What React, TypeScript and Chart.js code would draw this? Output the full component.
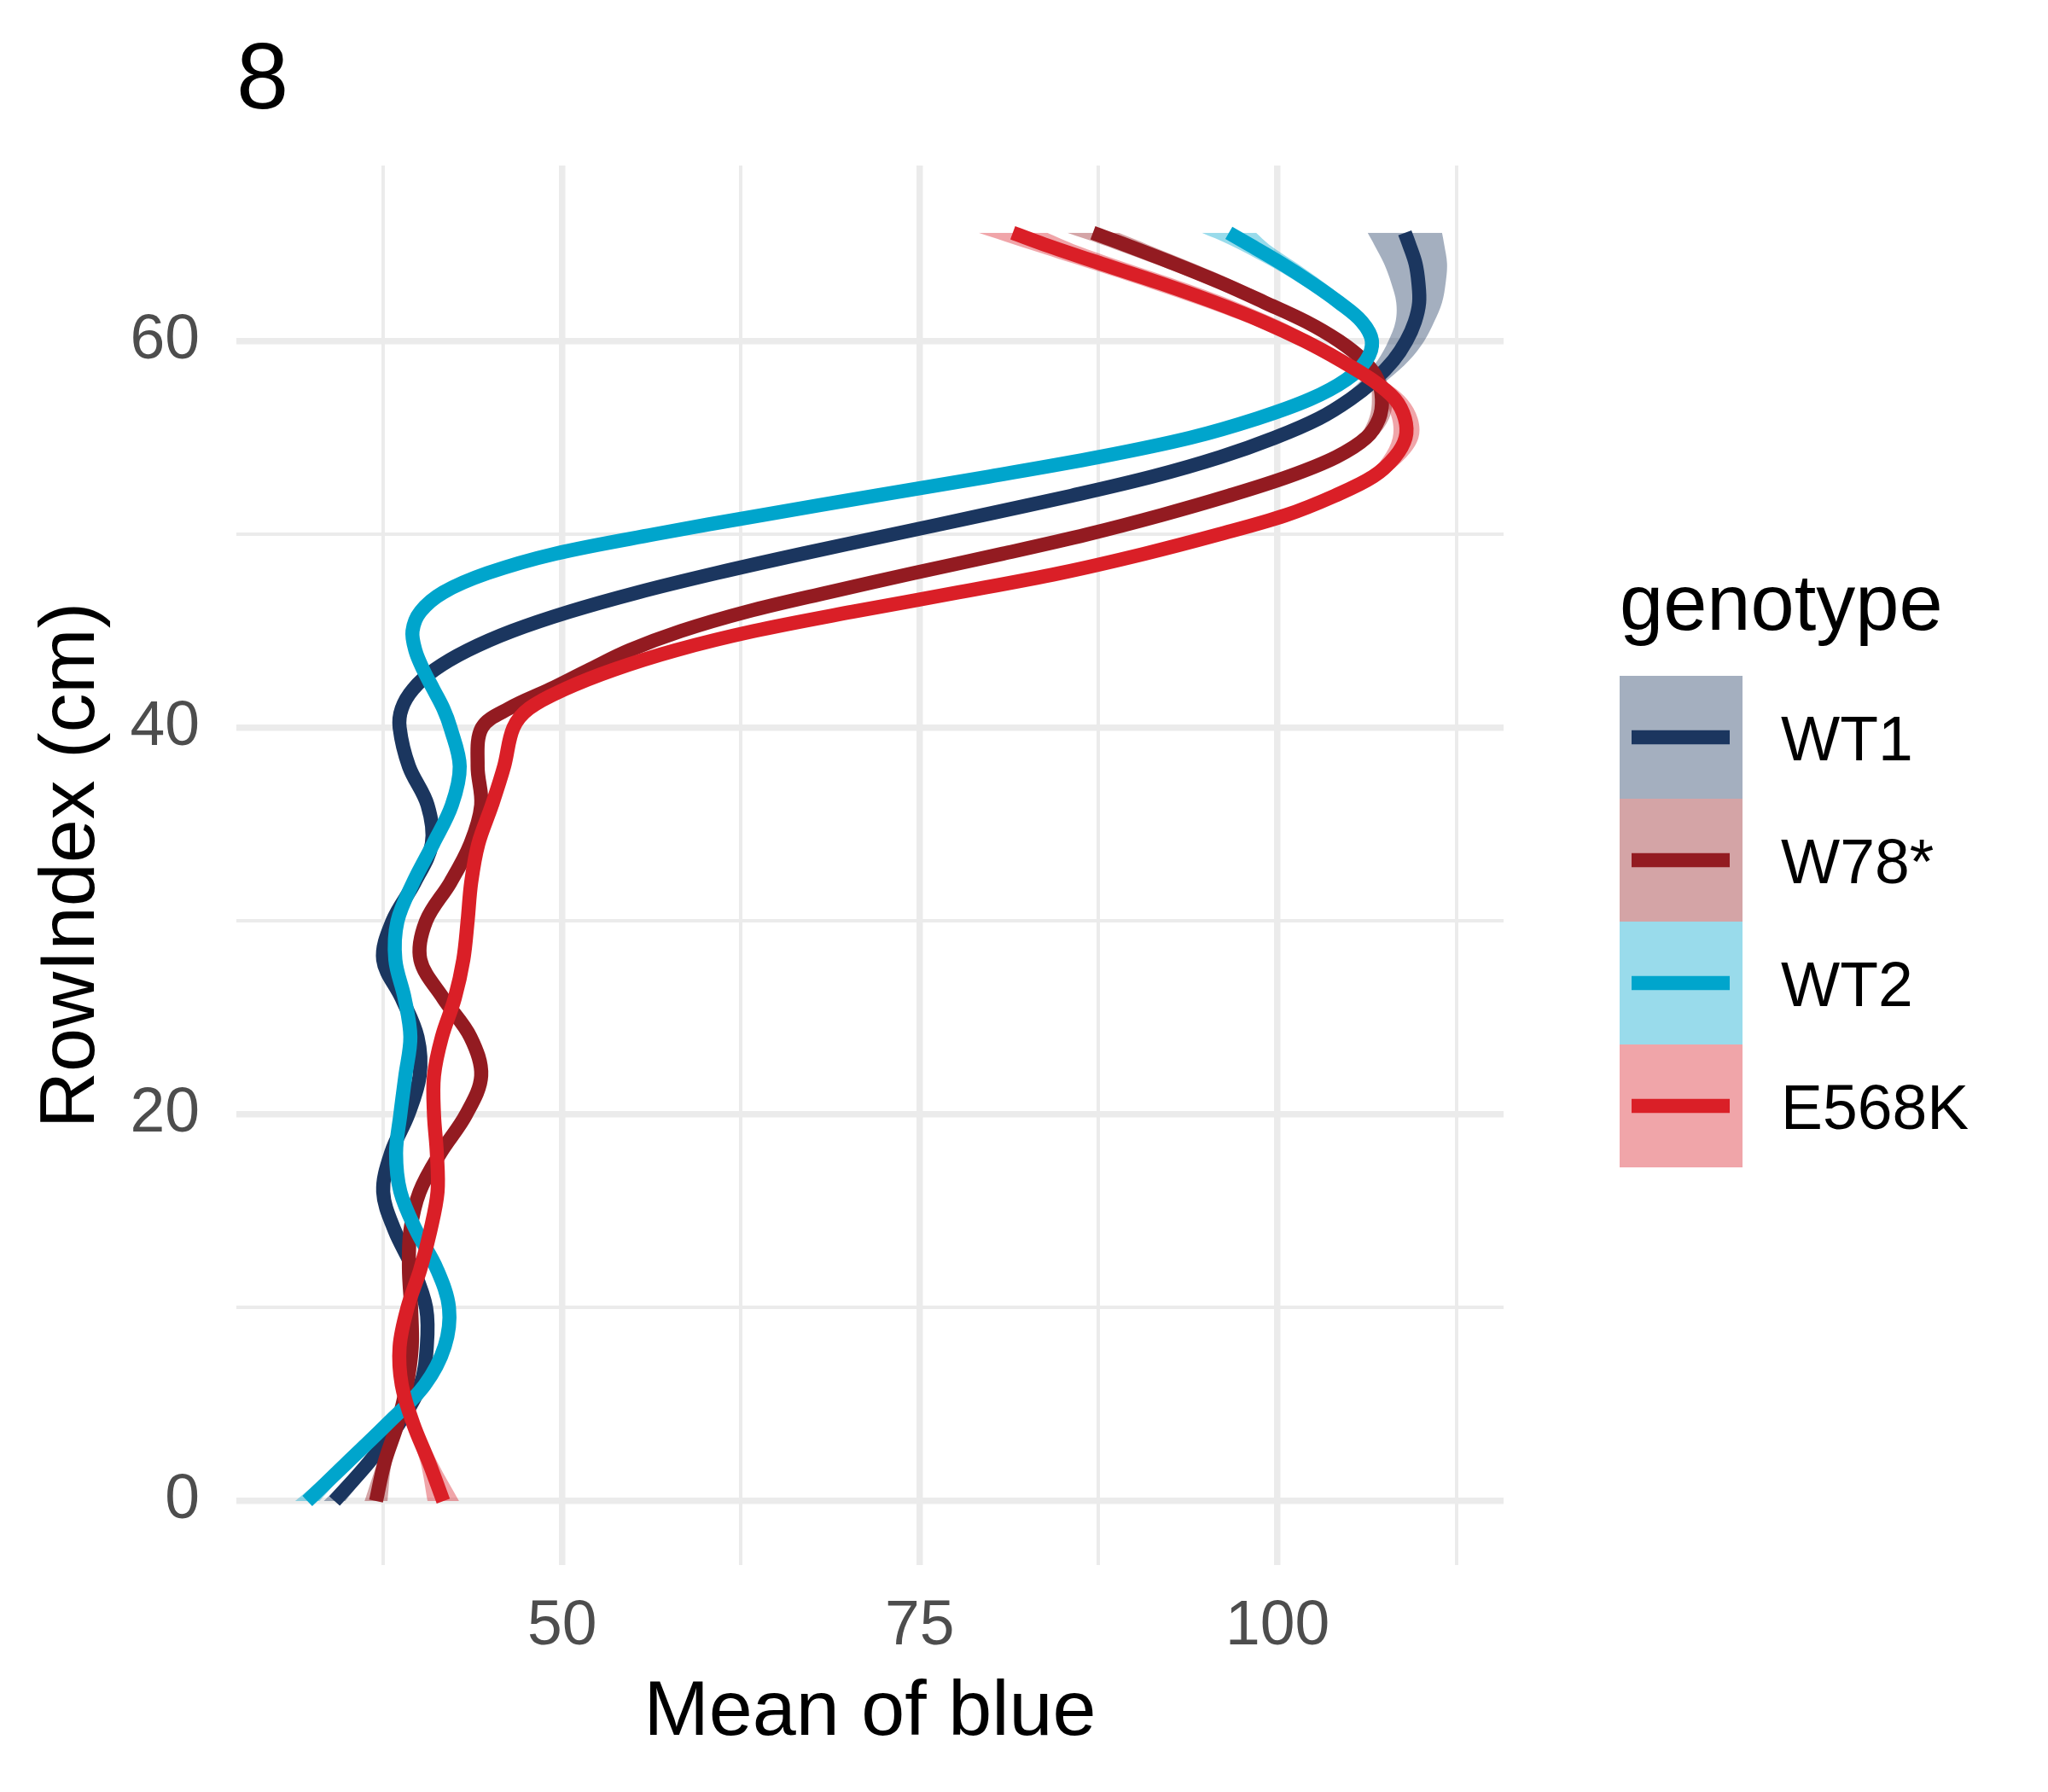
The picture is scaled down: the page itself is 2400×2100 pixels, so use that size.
import { useEffect, useRef } from 'react';
import { Chart, registerables } from 'chart.js';

Chart.register(...registerables);

const FONT = '"Liberation Sans", Arial, Helvetica, sans-serif';

const plotTitle = '8';
const xTitle = 'Mean of blue';
const yTitle = 'RowIndex (cm)';
const legendTitle = 'genotype';

const genotypes = ['WT1', 'W78*', 'WT2', 'E568K'];
const lineColors = ['#1B365F', '#931B21', '#00A5CC', '#DA1F27'];
const ribbonColors = [
  'rgba(27, 54, 95, 0.4)',
  'rgba(147, 27, 33, 0.4)',
  'rgba(0, 165, 204, 0.4)',
  'rgba(218, 31, 39, 0.4)',
];

const xGrid = [37.5, 50, 62.5, 75, 87.5, 100, 112.5];
const xTickLabels = [50, 75, 100];
const yGrid = [0, 10, 20, 30, 40, 50, 60];
const yTickLabels = [0, 20, 40, 60];

// smoothed curves, sampled along RowIndex
const rowIndex = [
  0, 2, 4, 6, 8, 10, 12, 14, 16, 18, 20, 22, 24, 26, 28, 30, 32, 34, 36, 38, 40,
  41, 42, 43, 44, 45, 46, 47, 48, 49, 50, 51, 52, 53, 54, 55, 56, 57, 58, 59, 60,
  61, 62, 63, 64, 65, 65.6,
];

const wt1Mean = [
  34.1, 36.5, 38.6, 40.1, 40.55, 40.5, 39.6, 38.3, 37.5, 38.05, 39.25, 40.05, 39.9, 38.8, 37.5, 38.15, 39.7, 40.9, 40.6, 39.3, 38.65,
  38.8, 39.6, 41.1, 43.4, 46.5, 50.5, 55.3, 60.8, 66.8, 73.1, 79.4, 85.6, 91.3, 96.0, 99.8, 102.9, 105.1, 106.8, 108.1, 109.0,
  109.6, 109.9, 109.85, 109.65, 109.2, 108.9,
];
const wt1Se = [
  0.75, 0.5, 0.4, 0.35, 0.35, 0.35, 0.35, 0.35, 0.35, 0.35, 0.35, 0.35, 0.35, 0.35, 0.35, 0.35, 0.35, 0.35, 0.35, 0.35, 0.35,
  0.35, 0.35, 0.35, 0.35, 0.35, 0.35, 0.35, 0.35, 0.35, 0.35, 0.35, 0.35, 0.35, 0.4, 0.45, 0.55, 0.7, 0.9, 1.1, 1.25,
  1.35, 1.6, 1.9, 2.2, 2.45, 2.6,
];

const w78Mean = [
  37.0, 37.6, 38.5, 39.15, 39.5, 39.45, 39.3, 39.4, 40.05, 41.5, 43.3, 44.35, 43.6, 41.7, 40.1, 40.5, 42.2, 43.6, 44.35, 44.1, 44.4,
  46.3, 49.2, 51.9, 54.7, 58.3, 62.9, 68.6, 74.6, 80.8, 86.7, 91.9, 96.6, 100.8, 104.1, 106.2, 107.1, 107.3, 107.0, 106.0, 104.3,
  102.0, 99.1, 96.1, 92.8, 89.3, 87.1,
];
const w78Se = [
  0.8, 0.5, 0.4, 0.35, 0.35, 0.35, 0.35, 0.35, 0.35, 0.35, 0.35, 0.35, 0.35, 0.35, 0.35, 0.35, 0.35, 0.35, 0.35, 0.35, 0.35,
  0.35, 0.35, 0.35, 0.35, 0.35, 0.35, 0.35, 0.35, 0.35, 0.35, 0.35, 0.35, 0.4, 0.5, 0.6, 0.7, 0.7, 0.6, 0.6, 0.7,
  0.8, 1.0, 1.2, 1.4, 1.6, 1.8,
];

const wt2Mean = [
  32.2, 35.0, 37.8, 40.4, 41.8, 42.1, 41.25, 39.8, 38.7, 38.4, 38.7, 39.05, 39.4, 39.0, 38.35, 38.5, 39.6, 41.0, 42.3, 42.85, 42.2,
  41.7, 41.0, 40.3, 39.75, 39.55, 40.1, 41.7, 44.8, 49.5, 56.4, 64.0, 71.9, 79.9, 87.5, 93.9, 98.6, 102.3, 104.8, 106.2, 106.6,
  105.9, 104.3, 102.4, 100.3, 98.0, 96.6,
];
const wt2Se = [
  0.85, 0.5, 0.4, 0.35, 0.35, 0.35, 0.35, 0.35, 0.35, 0.35, 0.35, 0.35, 0.35, 0.35, 0.35, 0.35, 0.35, 0.35, 0.35, 0.35, 0.35,
  0.35, 0.35, 0.35, 0.35, 0.35, 0.35, 0.35, 0.35, 0.35, 0.35, 0.35, 0.35, 0.35, 0.35, 0.35, 0.35, 0.4, 0.4, 0.45, 0.5,
  0.6, 0.7, 0.9, 1.1, 1.4, 1.9,
];

const e568kMean = [
  41.7, 40.7, 39.6, 38.8, 38.65, 39.2, 40.1, 40.8, 41.3, 41.25, 41.05, 41.05, 41.6, 42.5, 43.1, 43.4, 43.65, 44.15, 45.1, 45.95, 46.6,
  47.7, 50.2, 53.6, 57.9, 63.4, 70.3, 77.7, 84.8, 90.7, 95.9, 100.6, 104.0, 106.7, 108.2, 108.95, 108.9, 108.2, 106.6, 104.4, 101.9,
  99.0, 95.6, 91.8, 87.7, 83.7, 81.5,
];
const e568kSe = [
  1.1, 0.6, 0.4, 0.35, 0.35, 0.35, 0.35, 0.35, 0.35, 0.35, 0.35, 0.35, 0.35, 0.35, 0.35, 0.35, 0.35, 0.35, 0.35, 0.35, 0.35,
  0.35, 0.35, 0.35, 0.35, 0.35, 0.35, 0.35, 0.35, 0.35, 0.35, 0.4, 0.5, 0.6, 0.8, 0.9, 0.9, 0.85, 0.8, 0.9, 1.0,
  1.3, 1.6, 1.8, 1.9, 2.1, 2.4,
];

const seriesMeans = [wt1Mean, w78Mean, wt2Mean, e568kMean];
const seriesSe = [wt1Se, w78Se, wt2Se, e568kSe];

// title and legend, drawn ggplot-style outside the panel
const decorPlugin = {
  id: 'decor',
  afterDraw(chart: Chart) {
    const { ctx, chartArea } = chart;
    ctx.save();
    ctx.textAlign = 'left';
    ctx.textBaseline = 'alphabetic';
    ctx.fillStyle = '#000000';
    ctx.font = `110px ${FONT}`;
    ctx.fillText(plotTitle, chartArea.left, chartArea.top - 67);

    const lx = chartArea.right + 136;
    const key = 144;
    ctx.font = `92px ${FONT}`;
    ctx.fillText(legendTitle, lx, 738);
    genotypes.forEach((name, k) => {
      const top = 792 + k * key;
      ctx.fillStyle = ribbonColors[k];
      ctx.fillRect(lx, top, key, key);
      ctx.strokeStyle = lineColors[k];
      ctx.lineWidth = 16.5;
      ctx.lineCap = 'butt';
      ctx.beginPath();
      ctx.moveTo(lx + 14, top + key / 2);
      ctx.lineTo(lx + key - 15, top + key / 2);
      ctx.stroke();
      ctx.fillStyle = '#000000';
      ctx.font = `73.3px ${FONT}`;
      ctx.fillText(name, lx + 189, top + key / 2 + 26.5);
    });
    ctx.restore();
  },
};

export default function App() {
  const canvasRef = useRef<HTMLCanvasElement>(null);
  const chartRef = useRef<Chart | null>(null);

  useEffect(() => {
    document.body.style.margin = '0';
    if (!canvasRef.current) return;

    if (chartRef.current) {
      chartRef.current.destroy();
    }

    const datasets: any[] = [];
    genotypes.forEach((name, k) => {
      const mean = seriesMeans[k];
      const se = seriesSe[k];
      datasets.push({
        label: `${name} lower`,
        data: rowIndex.map((y, i) => ({ x: mean[i] - se[i], y })),
        borderColor: 'rgba(0,0,0,0)',
        borderWidth: 0,
        backgroundColor: ribbonColors[k],
        fill: '+1',
        tension: 0.35,
        pointRadius: 0,
        order: 10,
      });
      datasets.push({
        label: `${name} upper`,
        data: rowIndex.map((y, i) => ({ x: mean[i] + se[i], y })),
        borderColor: 'rgba(0,0,0,0)',
        borderWidth: 0,
        fill: false,
        tension: 0.35,
        pointRadius: 0,
        order: 10,
      });
      datasets.push({
        label: name,
        data: rowIndex.map((y, i) => ({ x: mean[i], y })),
        borderColor: lineColors[k],
        borderWidth: 16.5,
        borderJoinStyle: 'round',
        borderCapStyle: 'butt',
        fill: false,
        tension: 0.35,
        pointRadius: 0,
        order: 4 - k,
      });
    });

    chartRef.current = new Chart(canvasRef.current, {
      type: 'line',
      data: { datasets },
      plugins: [decorPlugin],
      options: {
        responsive: false,
        animation: false,
        devicePixelRatio: 1,
        indexAxis: 'y',
        layout: { padding: { left: 0, top: 194, right: 638, bottom: 0 } },
        plugins: {
          legend: { display: false },
          tooltip: { enabled: false },
          filler: { drawTime: 'beforeDatasetsDraw' },
        },
        scales: {
          x: {
            type: 'linear',
            position: 'bottom',
            min: 27.24,
            max: 115.8,
            afterBuildTicks: (scale: any) => {
              scale.ticks = xGrid.map((value) => ({ value }));
            },
            afterFit: (scale: any) => {
              scale.height = 266;
            },
            border: { display: false },
            grid: {
              color: '#EBEBEB',
              lineWidth: (ctx: any) => (xTickLabels.includes(ctx.tick?.value) ? 7.5 : 4),
              drawTicks: false,
            },
            ticks: {
              autoSkip: false,
              maxRotation: 0,
              minRotation: 0,
              padding: 29,
              color: '#4D4D4D',
              font: { family: FONT, size: 73.3 },
              callback: (value: any) => (xTickLabels.includes(Number(value)) ? String(value) : ''),
            },
            title: {
              display: true,
              text: xTitle,
              color: '#000000',
              font: { family: FONT, size: 91.7 },
              padding: { top: 0, bottom: 37.5 },
            },
          },
          y: {
            type: 'linear',
            position: 'left',
            min: -3.31,
            max: 69.08,
            afterBuildTicks: (scale: any) => {
              scale.ticks = yGrid.map((value) => ({ value }));
            },
            afterFit: (scale: any) => {
              scale.width = 277;
            },
            border: { display: false },
            grid: {
              color: '#EBEBEB',
              lineWidth: (ctx: any) => (yTickLabels.includes(ctx.tick?.value) ? 7.5 : 4),
              drawTicks: false,
            },
            ticks: {
              autoSkip: false,
              padding: 43,
              color: '#4D4D4D',
              font: { family: FONT, size: 73.3 },
              callback: (value: any) => (yTickLabels.includes(Number(value)) ? String(value) : ''),
            },
            title: {
              display: true,
              text: yTitle,
              color: '#000000',
              font: { family: FONT, size: 91.7 },
              padding: { top: 29.5, bottom: 0 },
            },
          },
        },
      },
    });

    return () => {
      if (chartRef.current) {
        chartRef.current.destroy();
        chartRef.current = null;
      }
    };
  }, []);

  return (
    <div style={{ width: 2400, height: 2100, background: '#ffffff' }}>
      <canvas ref={canvasRef} width={2400} height={2100} style={{ display: 'block', width: 2400, height: 2100 }} />
    </div>
  );
}
